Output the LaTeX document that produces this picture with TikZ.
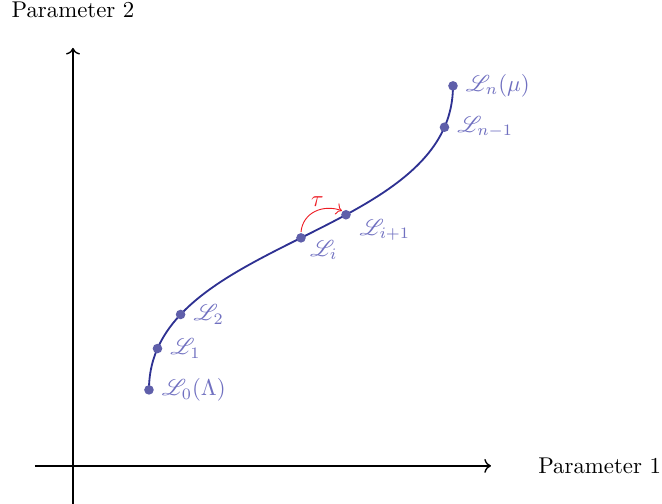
\documentclass[tikz,border=0pt]{standalone}
\usepackage{amsmath,amssymb,mathrsfs}
\usepackage{tikz}
\usetikzlibrary{arrows.meta, positioning, calc}
\usepackage{xcolor}
\definecolor{PathBlue}{HTML}{2E3192}
\definecolor{PointBlue}{HTML}{5F5FAA}
\definecolor{LabelBlue}{HTML}{7070C0}
\definecolor{StepRed}{HTML}{ED1C24}
\tikzset{
    % Axis style
    axisline/.style={
        ->,
        semithick,
        black
    },
    % Path of parameters
    parampath/.style={
        draw=PathBlue,
        thick
    },
    % Points on the path
    parampoint/.style={
        circle,
        fill=PointBlue,
        inner sep=0pt,
        minimum size=4.2pt
    },
    pointlabel/.style={
        text=LabelBlue,
        inner sep=2pt
    },
    % Step arrow
    steparrow/.style={
        ->,
        StepRed
    }
}

\begin{document}
\begin{tikzpicture}[x=1.171cm, y=1.171cm]
                \useasboundingbox (-0.96,-0.49) rectangle (7.75,6.13);
                % Axes
                \coordinate (xstart) at (-0.5,0);
                \coordinate (xend) at (5.5,0);
                \coordinate (ystart) at (0,-0.5);
                \coordinate (yend) at (0,5.5);
                \draw[axisline] (xstart) -- (xend);
                \draw[axisline] (ystart) -- (yend);
                \node (xlabel) at (6.93,0) {Parameter 1};
                \node (ylabel) at (0,6) {Parameter 2};

                % Path from Lambda to mu
                \path[parampath] (1,1) .. controls (1,3) and (5,3) .. (5,5)
                    node[pos=0, parampoint] (L0) {}
                    node[pos=0.1, parampoint] (L1) {}
                    node[pos=0.2, parampoint] (L2) {}
                    node[pos=0.5, parampoint] (Li) {}
                    node[pos=0.6, parampoint] (Lip) {}
                    node[pos=0.9, parampoint] (Lnm) {}
                    node[pos=1, parampoint] (Ln) {};

                % Labels
                \node[pointlabel, right=1pt of L0] (L0lab) {$\mathscr{L}_0(\Lambda)$};
                \node[pointlabel, right=1pt of L1] (L1lab) {$\mathscr{L}_1$};
                \node[pointlabel, right=1pt of L2] (L2lab) {$\mathscr{L}_2$};
                \node[pointlabel, below right=-3pt and 0pt of Li] (Lilab) {$\mathscr{L}_i$};
                \node[pointlabel, below right=-2pt and 2pt of Lip] (Liplab) {$\mathscr{L}_{i+1}$};
                \node[pointlabel, right=1pt of Lnm] (Lnmlab) {$\mathscr{L}_{n-1}$};
                \node[pointlabel, right=1pt of Ln] (Lnlab) {$\mathscr{L}_n(\mu)$};

                % Step
                \draw[steparrow] (Li.north) to[out=85, in=160, looseness=1.1]
                    node[pos=0.55, above, text=StepRed, inner sep=1.5pt] (tau) {$\tau$} (Lip.north west);
            \end{tikzpicture}
\end{document}
